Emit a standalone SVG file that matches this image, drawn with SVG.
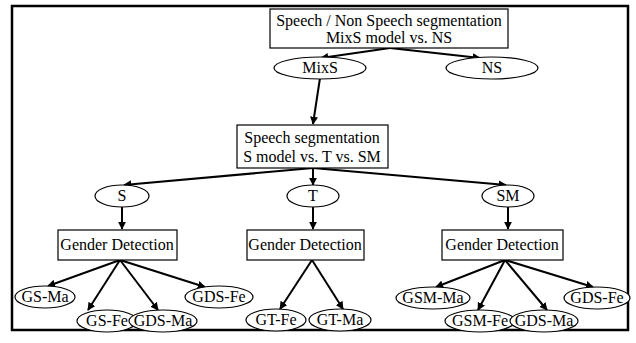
<svg xmlns="http://www.w3.org/2000/svg" width="636" height="343" viewBox="0 0 636 343">
<style>
.frame{fill:none;stroke:#000;stroke-width:2.5}
.box{fill:#fff;stroke:#000;stroke-width:1.2}
.ell{fill:#fff;stroke:#000;stroke-width:1.2}
.t{font-family:"Liberation Serif","Times New Roman",Times,serif;font-size:16px;fill:#000;text-anchor:middle}
.c{fill:none;stroke:#000;stroke-width:2;marker-end:url(#ah)}
</style>
<defs>
<marker id="ah" viewBox="0 0 10 10" refX="9" refY="5" markerWidth="4" markerHeight="4" orient="auto" markerUnits="strokeWidth">
<path d="M0,0 L10,5 L0,10 z" fill="#000"/>
</marker>
</defs>
<rect x="0" y="0" width="636" height="343" fill="#fff"/>
<rect class="frame" x="12" y="6" width="616" height="324"/>
<g id="connectors">
<line class="c" x1="390" y1="48" x2="321" y2="58"/>
<line class="c" x1="390" y1="48" x2="480" y2="58"/>
<line class="c" x1="320" y1="78" x2="313" y2="124"/>
<line class="c" x1="313" y1="168" x2="124" y2="185"/>
<line class="c" x1="313" y1="168" x2="313" y2="185"/>
<line class="c" x1="313" y1="168" x2="506" y2="185"/>
<line class="c" x1="122" y1="207" x2="122" y2="229"/>
<line class="c" x1="313" y1="207" x2="313" y2="229"/>
<line class="c" x1="508" y1="207" x2="508" y2="229"/>
<line class="c" x1="120" y1="260" x2="48" y2="286"/>
<line class="c" x1="120" y1="260" x2="88" y2="310"/>
<line class="c" x1="120" y1="260" x2="158" y2="310"/>
<line class="c" x1="120" y1="260" x2="205" y2="287"/>
<line class="c" x1="312" y1="260" x2="280" y2="309"/>
<line class="c" x1="312" y1="260" x2="343" y2="309"/>
<line class="c" x1="505" y1="260" x2="436" y2="287"/>
<line class="c" x1="505" y1="260" x2="478" y2="310"/>
<line class="c" x1="505" y1="260" x2="547" y2="310"/>
<line class="c" x1="505" y1="260" x2="593" y2="287"/>
</g>
<g id="n-root">
<rect class="box" x="270" y="9" width="238" height="39"/>
<text class="t" x="389" y="26">Speech / Non Speech segmentation</text>
<text class="t" x="389" y="43">MixS model vs. NS</text>
</g>
<g id="n-mixs"><ellipse class="ell" cx="320" cy="68" rx="46" ry="11"/><text class="t" x="320" y="73">MixS</text></g>
<g id="n-ns"><ellipse class="ell" cx="492" cy="68" rx="46" ry="11"/><text class="t" x="492" y="73">NS</text></g>
<g id="n-seg">
<rect class="box" x="237" y="125" width="151" height="43"/>
<text class="t" x="312" y="143">Speech segmentation</text>
<text class="t" x="312" y="162">S model vs. T vs. SM</text>
</g>
<g id="n-s"><ellipse class="ell" cx="122" cy="196" rx="27" ry="11"/><text class="t" x="122" y="201">S</text></g>
<g id="n-t"><ellipse class="ell" cx="313" cy="196" rx="26" ry="11"/><text class="t" x="313" y="201">T</text></g>
<g id="n-sm"><ellipse class="ell" cx="508" cy="196" rx="26" ry="11"/><text class="t" x="508" y="201">SM</text></g>
<g id="n-gd1"><rect class="box" x="58" y="230" width="119" height="30"/><text class="t" x="117" y="250">Gender Detection</text></g>
<g id="n-gd2"><rect class="box" x="247" y="230" width="117" height="30"/><text class="t" x="305" y="250">Gender Detection</text></g>
<g id="n-gd3"><rect class="box" x="442" y="230" width="121" height="30"/><text class="t" x="502" y="250">Gender Detection</text></g>
<g id="n-gsma"><ellipse class="ell" cx="45" cy="297" rx="30" ry="11"/><text class="t" x="45" y="302">GS-Ma</text></g>
<g id="n-gsfe"><ellipse class="ell" cx="107" cy="321" rx="30" ry="11"/><text class="t" x="107" y="326">GS-Fe</text></g>
<g id="n-gdsma1"><ellipse class="ell" cx="163" cy="321" rx="34" ry="11"/><text class="t" x="163" y="326">GDS-Ma</text></g>
<g id="n-gdsfe1"><ellipse class="ell" cx="219" cy="297" rx="34" ry="11"/><text class="t" x="219" y="302">GDS-Fe</text></g>
<g id="n-gtfe"><ellipse class="ell" cx="276" cy="320" rx="30" ry="11"/><text class="t" x="276" y="325">GT-Fe</text></g>
<g id="n-gtma"><ellipse class="ell" cx="340" cy="320" rx="31" ry="11"/><text class="t" x="340" y="325">GT-Ma</text></g>
<g id="n-gsmma"><ellipse class="ell" cx="433" cy="298" rx="37" ry="11"/><text class="t" x="433" y="303">GSM-Ma</text></g>
<g id="n-gsmfe"><ellipse class="ell" cx="480" cy="321" rx="35" ry="11"/><text class="t" x="480" y="326">GSM-Fe</text></g>
<g id="n-gdsma2"><ellipse class="ell" cx="544" cy="321" rx="34" ry="11"/><text class="t" x="544" y="326">GDS-Ma</text></g>
<g id="n-gdsfe2"><ellipse class="ell" cx="597" cy="298" rx="33" ry="11"/><text class="t" x="597" y="303">GDS-Fe</text></g>
</svg>
